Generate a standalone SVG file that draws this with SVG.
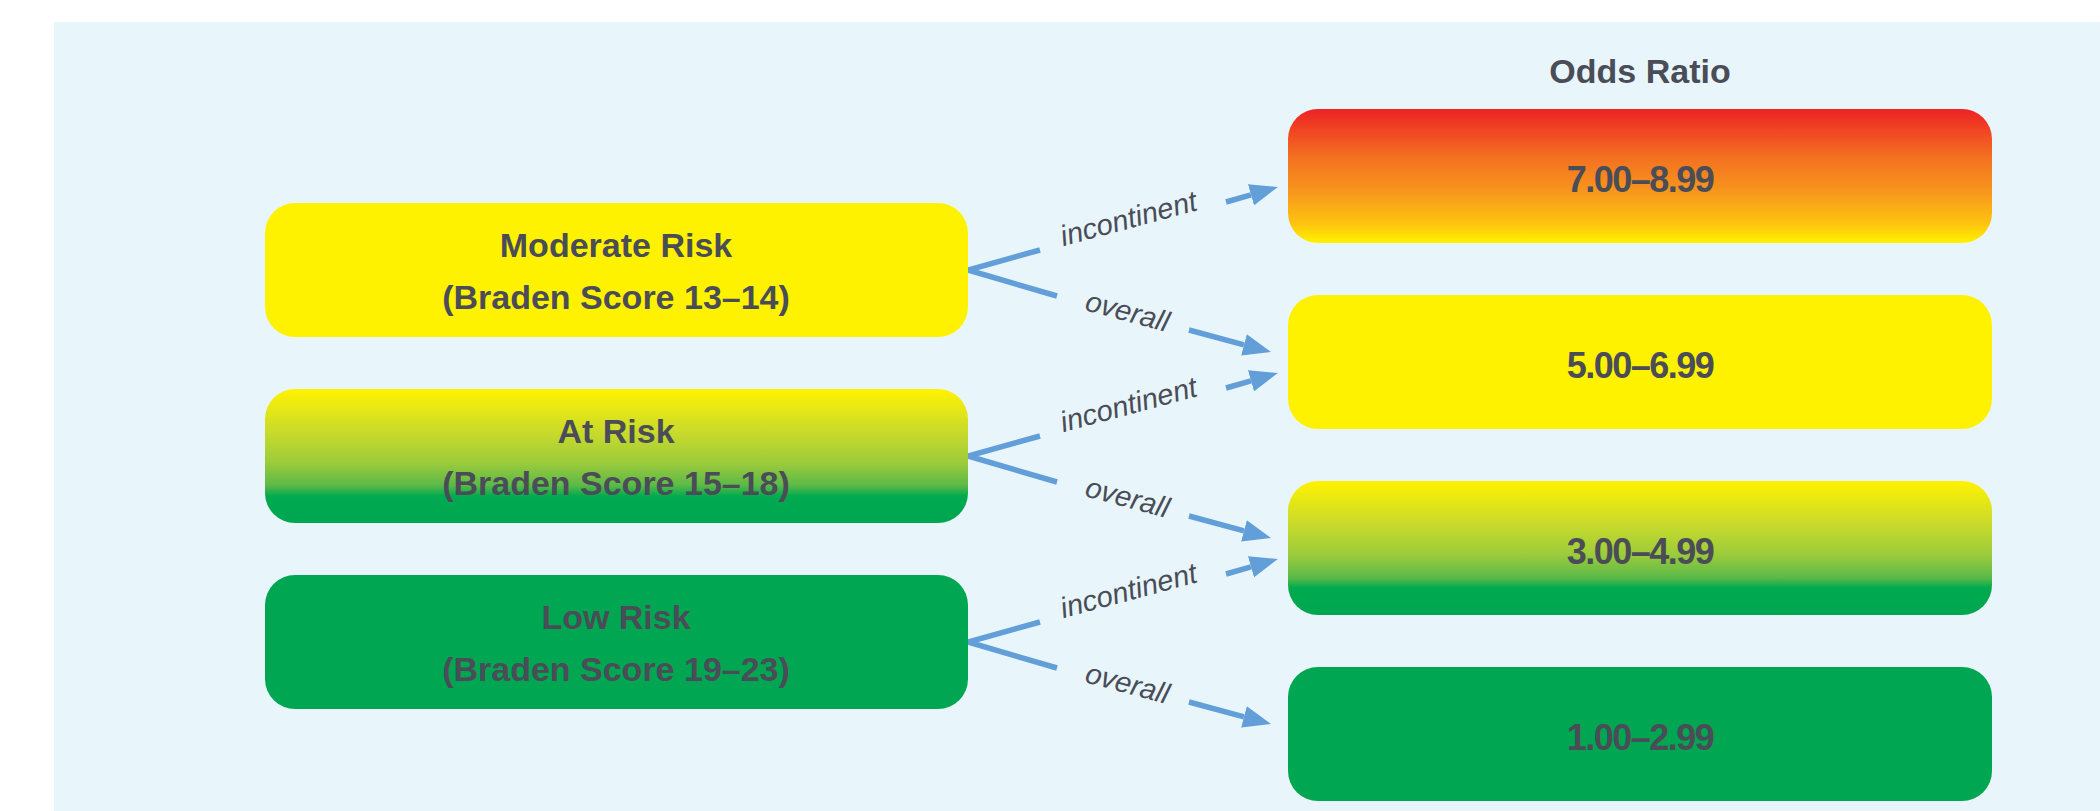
<svg xmlns="http://www.w3.org/2000/svg" width="2100" height="811" viewBox="0 0 2100 811">
<defs>
<linearGradient id="gRed" x1="0" y1="0" x2="0" y2="1">
<stop offset="0" stop-color="#ed2224"/>
<stop offset="0.35" stop-color="#f36f21"/>
<stop offset="0.6" stop-color="#f7941d"/>
<stop offset="0.85" stop-color="#fdc20f"/>
<stop offset="1" stop-color="#fff200"/>
</linearGradient>
<linearGradient id="gYG" x1="0" y1="0" x2="0" y2="1">
<stop offset="0" stop-color="#fff200"/>
<stop offset="0.3" stop-color="#cddc29"/>
<stop offset="0.55" stop-color="#9ccb3b"/>
<stop offset="0.72" stop-color="#5cb947"/>
<stop offset="0.8" stop-color="#00aa4f"/>
<stop offset="1" stop-color="#00a651"/>
</linearGradient>
<marker id="ah" markerUnits="userSpaceOnUse" markerWidth="28" markerHeight="22" refX="0" refY="11" orient="auto">
<path d="M0,0 L28,11 L0,22 z" fill="#629fd8"/>
</marker>
<g id="conn">
<polyline points="1040,250 968,270 1057,296" fill="none" stroke="#629fd8" stroke-width="5.5"/>
<line x1="1226" y1="202" x2="1251" y2="194.8" stroke="#629fd8" stroke-width="5.5" marker-end="url(#ah)"/>
<line x1="1189" y1="330" x2="1244" y2="344.8" stroke="#629fd8" stroke-width="5.5" marker-end="url(#ah)"/>
<text class="lab" x="1131" y="228" transform="rotate(-15 1131 228)">incontinent</text>
<text class="lab" x="1125" y="321" transform="rotate(15 1125 321)">overall</text>
</g>
</defs>
<style>
.t{font-family:"Liberation Sans",Arial,sans-serif;font-weight:bold;font-size:34px;fill:#4a4d57;text-anchor:middle}
.n{font-size:36px;letter-spacing:-1.5px}
.lab{font-family:"Liberation Sans",Arial,sans-serif;font-style:italic;font-size:29px;fill:#4a4d57;text-anchor:middle}
</style>
<rect x="0" y="0" width="2100" height="811" fill="#ffffff"/>
<rect x="54" y="22" width="2046" height="789" fill="#e8f6fc"/>
<text class="t" x="1640" y="83">Odds Ratio</text>
<g id="connectors">
<use href="#conn"/>
<use href="#conn" transform="translate(0,186)"/>
<use href="#conn" transform="translate(0,372)"/>
</g>
<g id="moderate">
<rect x="265" y="203" width="703" height="134" rx="30" fill="#fff200"/>
<text class="t" x="616" y="257">Moderate Risk</text>
<text class="t" x="616" y="309">(Braden Score 13–14)</text>
</g>
<g id="atrisk">
<rect x="265" y="389" width="703" height="134" rx="30" fill="url(#gYG)"/>
<text class="t" x="616" y="443">At Risk</text>
<text class="t" x="616" y="495">(Braden Score 15–18)</text>
</g>
<g id="lowrisk">
<rect x="265" y="575" width="703" height="134" rx="30" fill="#00a651"/>
<text class="t" x="616" y="629">Low Risk</text>
<text class="t" x="616" y="681">(Braden Score 19–23)</text>
</g>
<g id="or7">
<rect x="1288" y="109" width="704" height="134" rx="30" fill="url(#gRed)"/>
<text class="t n" x="1640" y="192">7.00–8.99</text>
</g>
<g id="or5">
<rect x="1288" y="295" width="704" height="134" rx="30" fill="#fff200"/>
<text class="t n" x="1640" y="378">5.00–6.99</text>
</g>
<g id="or3">
<rect x="1288" y="481" width="704" height="134" rx="30" fill="url(#gYG)"/>
<text class="t n" x="1640" y="564">3.00–4.99</text>
</g>
<g id="or1">
<rect x="1288" y="667" width="704" height="134" rx="30" fill="#00a651"/>
<text class="t n" x="1640" y="750">1.00–2.99</text>
</g>
</svg>
